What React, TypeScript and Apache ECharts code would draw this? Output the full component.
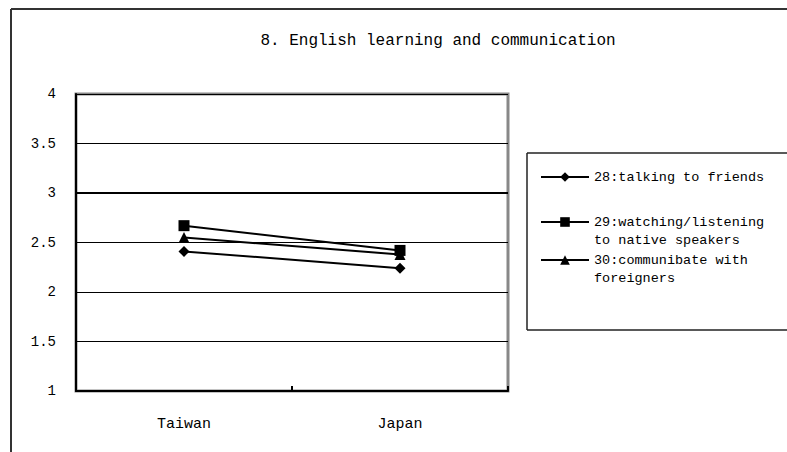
import React, { useEffect, useRef } from "react";
import * as echarts from "echarts";

const categories = ["Taiwan", "Japan"];
const seriesNames = [
  "28:talking to friends",
  "29:watching/listening\nto native speakers",
  "30:communibate with\nforeigners",
];
const talkingToFriends = [2.41, 2.24];
const watchingListening = [2.67, 2.42];
const communicateForeigners = [2.55, 2.38];
const yTicks = [1, 1.5, 2, 2.5, 3, 3.5, 4];

const FONT = "'Liberation Mono', 'DejaVu Sans Mono', monospace";

export default function App() {
  const ref = useRef<HTMLDivElement>(null);
  useEffect(() => {
    if (!ref.current) return;
    const chart = echarts.init(ref.current, null, { renderer: "svg" });
    const values = [talkingToFriends, watchingListening, communicateForeigners];
    const symbols = ["diamond", "rect", "triangle"];
    const symbolSizes = [11, 11, 11];
    const legendTops = [168, 195, 233];
    const L = 18;
    const series: any[] = values.map((v, i) => ({
      name: seriesNames[i],
      type: "line",
      data: v,
      symbol: symbols[i],
      symbolSize: symbolSizes[i],
      itemStyle: { color: "#000" },
      lineStyle: { color: "#000", width: 2 },
      z: 5,
    }));
    series[0].markLine = {
      silent: true,
      symbol: "none",
      label: { show: false },
      lineStyle: { color: "#000", width: 2, type: "solid" },
      data: [{ yAxis: 3 }],
      z: 2,
    };
    const legends = seriesNames.map((n, i) => ({
      orient: "vertical",
      left: 540,
      top: legendTops[i],
      padding: 0,
      itemWidth: 48,
      itemHeight: 12,
      selectedMode: false,
      data: [n],
      formatter: (name: string) => (name.includes("\n") ? " \n" + name : name),
      textStyle: {
        fontFamily: FONT,
        fontSize: 13.5,
        color: "#000",
        lineHeight: L,
      },
    }));
    const boxStyle = { stroke: "#222", lineWidth: 1.5 };
    chart.setOption({
      animation: false,
      backgroundColor: "#fff",
      title: {
        text: "8. English learning and communication",
        left: 433,
        top: 28,
        textAlign: "center",
        textStyle: { fontFamily: FONT, fontSize: 16, fontWeight: "normal", color: "#000" },
      },
      legend: legends,
      graphic: [
        { type: "line", shape: { x1: 11, y1: 9, x2: 787, y2: 9 }, style: { stroke: "#333", lineWidth: 2 }, silent: true },
        { type: "line", shape: { x1: 11, y1: 9, x2: 11, y2: 452 }, style: { stroke: "#333", lineWidth: 2 }, silent: true },
        { type: "line", shape: { x1: 527, y1: 153, x2: 787, y2: 153 }, style: boxStyle, silent: true },
        { type: "line", shape: { x1: 527, y1: 153, x2: 527, y2: 330 }, style: boxStyle, silent: true },
        { type: "line", shape: { x1: 527, y1: 330, x2: 787, y2: 330 }, style: boxStyle, silent: true },
      ],
      grid: {
        left: 76,
        top: 94,
        right: 279,
        bottom: 61,
        show: true,
        borderColor: "#888",
        borderWidth: 3,
      },
      xAxis: {
        type: "category",
        data: categories,
        boundaryGap: true,
        axisLine: { lineStyle: { color: "#000", width: 2 } },
        axisTick: { show: true, inside: true, length: 5, lineStyle: { color: "#000", width: 2 } },
        axisLabel: { margin: 26, fontFamily: FONT, fontSize: 15, color: "#000" },
      },
      yAxis: {
        type: "value",
        min: yTicks[0],
        max: yTicks[yTicks.length - 1],
        interval: 0.5,
        axisLine: { show: true, lineStyle: { color: "#000", width: 2 } },
        axisTick: { show: false },
        axisLabel: { margin: 20, fontFamily: FONT, fontSize: 14, color: "#000" },
        splitLine: { show: true, lineStyle: { color: "#000", width: 1 } },
      },
      series,
    });
    return () => chart.dispose();
  }, []);
  return <div ref={ref} style={{ width: 787, height: 452, position: "absolute", left: 0, top: 0 }} />;
}
